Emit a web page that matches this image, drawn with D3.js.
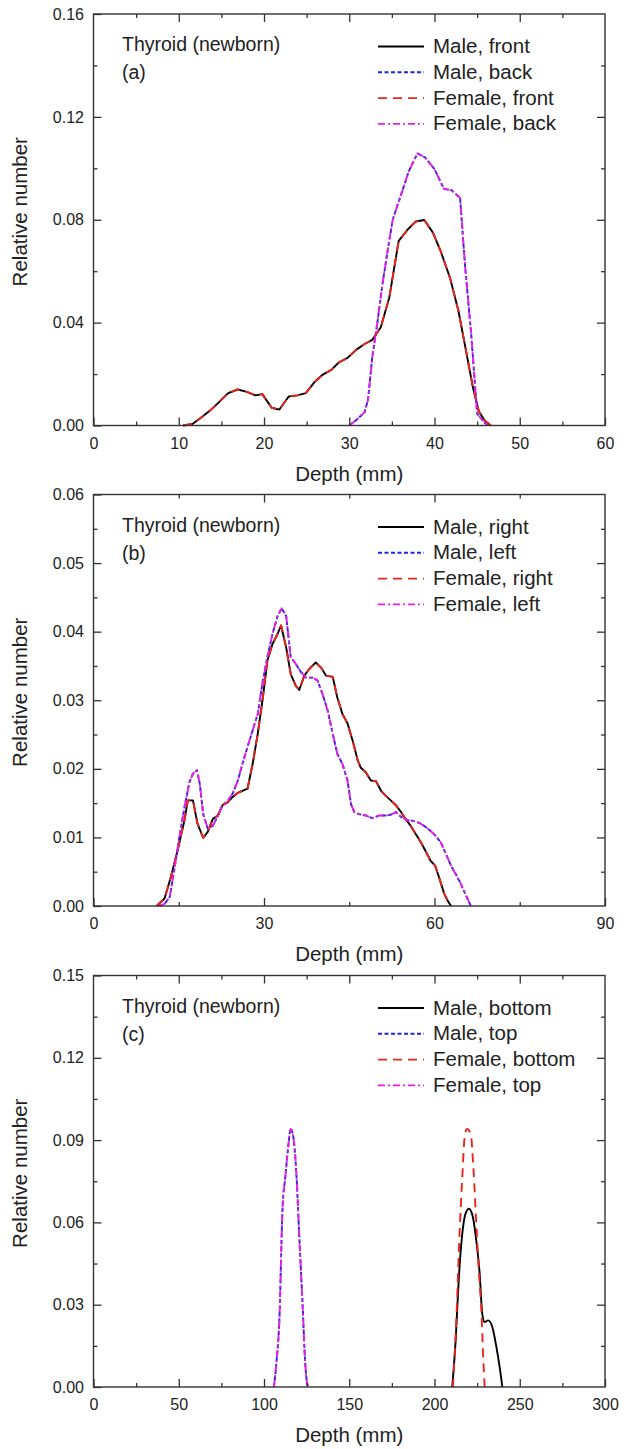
<!DOCTYPE html>
<html>
<head>
<meta charset="utf-8">
<script src="https://cdn.jsdelivr.net/npm/d3@7"></script>
<style>
  html, body { margin: 0; padding: 0; background: #fff; }
  svg { display: block; }
  text { font-family: "Liberation Sans", Arial, sans-serif; fill: #222; }
</style>
</head>
<body>
<svg id="chart" width="624" height="1449"></svg>
<script>
// ---------------- DATA ----------------
// Panel (a): front / back, depth (mm) vs relative number
const aFront = [[10.5,0],[11.6,0.0006],[12.6,0.003],[13.6,0.0056],[14.7,0.009],[15.8,0.0126],[16.9,0.014],[17.9,0.0132],[19.0,0.0117],[19.8,0.0122],[20.9,0.0069],[21.8,0.0062],[22.9,0.0113],[23.9,0.0117],[24.9,0.0126],[25.9,0.0168],[26.9,0.0198],[27.9,0.0216],[28.8,0.0246],[29.8,0.0263],[30.8,0.0294],[31.8,0.0317],[32.7,0.0333],[33.7,0.0382],[34.7,0.0498],[35.8,0.0718],[36.8,0.076],[37.8,0.0793],[38.8,0.0799],[39.8,0.0751],[40.7,0.068],[41.8,0.0576],[42.8,0.0447],[43.7,0.029],[44.5,0.0149],[45.2,0.0055],[45.9,0.0018],[46.6,0]];
const aBack = [[30.0,0],[30.8,0.002],[31.8,0.0052],[32.2,0.01],[32.7,0.0265],[33.3,0.04],[33.9,0.055],[34.5,0.068],[35.1,0.08],[36.1,0.09],[37.0,0.099],[38.0,0.1058],[38.9,0.1042],[40.0,0.0997],[41.1,0.092],[42.0,0.0915],[43.0,0.0885],[43.6,0.0615],[44.3,0.0357],[45.0,0.0046],[45.9,0.001],[46.3,0]];
const aFemaleFront = aFront;   // overlaps the male curve
const aFemaleBack = aBack;

// Panel (b): right / left
const bRight = [[11.1,0],[12.5,0.0011],[13.6,0.0042],[14.8,0.0081],[16.0,0.0125],[16.6,0.0154],[17.5,0.0154],[18.3,0.012],[19.3,0.00995],[20.1,0.0108],[21.0,0.0127],[21.9,0.0132],[22.7,0.0147],[23.6,0.0151],[24.5,0.0159],[25.4,0.0165],[26.2,0.0168],[27.1,0.0171],[28.0,0.0207],[28.9,0.0251],[29.8,0.0304],[30.6,0.0358],[31.5,0.0382],[32.4,0.0397],[33.0,0.0409],[33.9,0.0377],[34.7,0.0338],[35.6,0.0321],[36.2,0.0315],[37.1,0.0336],[38.0,0.0346],[39.1,0.0355],[40.0,0.0348],[40.9,0.0336],[42.1,0.0334],[42.9,0.0304],[43.8,0.028],[44.7,0.0266],[45.6,0.0241],[46.5,0.0212],[47.0,0.0202],[47.9,0.0195],[48.8,0.0183],[49.7,0.0182],[50.6,0.0168],[51.4,0.0161],[52.3,0.0154],[53.2,0.0147],[54.1,0.0137],[54.9,0.0127],[55.8,0.0117],[56.7,0.0105],[57.6,0.0093],[58.5,0.0079],[59.3,0.0066],[60.1,0.0059],[60.8,0.0042],[61.7,0.0018],[62.3,0.0008],[62.9,0]];
const bLeft = [[11.6,0],[12.5,0.0003],[13.4,0.0013],[14.2,0.0052],[15.1,0.01],[16.0,0.0144],[16.9,0.0181],[17.5,0.0193],[18.2,0.0198],[18.7,0.0178],[19.3,0.0134],[20.1,0.0113],[21.0,0.0117],[21.9,0.0132],[22.7,0.0147],[23.6,0.0153],[24.5,0.0164],[25.4,0.0183],[26.2,0.0207],[27.1,0.0232],[28.0,0.0256],[28.9,0.028],[29.8,0.0329],[30.6,0.0363],[31.5,0.0397],[32.4,0.0423],[33.1,0.0434],[33.9,0.0423],[34.7,0.0363],[35.6,0.0353],[36.5,0.0341],[37.4,0.0333],[38.5,0.0333],[39.4,0.0329],[40.3,0.0309],[41.2,0.0285],[42.1,0.0251],[42.9,0.0222],[43.8,0.0207],[44.7,0.0183],[45.3,0.0149],[45.9,0.0137],[46.7,0.0134],[47.9,0.0132],[49.1,0.0128],[50.3,0.0132],[51.4,0.0132],[52.3,0.0133],[53.2,0.0137],[54.1,0.013],[55.2,0.0125],[56.4,0.0124],[57.6,0.012],[58.8,0.0113],[59.9,0.0105],[61.1,0.0093],[62.0,0.0076],[62.9,0.0059],[63.7,0.0047],[64.6,0.0033],[65.5,0.0016],[66.4,0]];
const bFemaleRight = bRight;
const bFemaleLeft = bLeft;

// Panel (c): bottom / top
const cMaleBottom = [[210.4,0],[212.4,0.017],[214.3,0.0401],[216.3,0.0559],[218.2,0.0632],[220.2,0.065],[222.5,0.062],[224.5,0.0534],[226.5,0.0413],[228.0,0.0267],[229.4,0.0237],[231.4,0.0243],[233.9,0.0219],[236.3,0.0146],[238.2,0.0073],[239.8,0]];
const cTop = [[105.8,0],[107.4,0.0097],[109.0,0.0243],[110.9,0.0656],[112.5,0.0765],[114.4,0.0887],[115.6,0.0941],[117.2,0.0911],[119.1,0.0765],[120.7,0.0547],[122.6,0.0304],[124.2,0.0085],[125.6,0.0006],[126.6,0]];
const cFemaleBottom = [[210.8,0],[212.7,0.023],[214.7,0.0559],[216.3,0.0765],[217.6,0.0905],[219.0,0.0941],[221.2,0.0923],[222.9,0.079],[224.5,0.0595],[226.1,0.0413],[227.5,0.0279],[228.4,0.0134],[229.4,0]];
const cFemaleTop = cTop;

// Axis settings
const xDomains = [[0, 60], [0, 90], [0, 300]];
const yDomains = [[0, 0.16], [0, 0.06], [0, 0.15]];
const xTickSteps = [10, 30, 50];
const yTickSteps = [0.04, 0.01, 0.03];
const panelLabels = ["(a)", "(b)", "(c)"];
const organLabel = "Thyroid (newborn)";
const legendNames = [
  ["Male, front", "Male, back", "Female, front", "Female, back"],
  ["Male, right", "Male, left", "Female, right", "Female, left"],
  ["Male, bottom", "Male, top", "Female, bottom", "Female, top"]
];
const xTitle = "Depth (mm)";
const yTitle = "Relative number";

// ---------------- STYLE ----------------
const seriesStyles = [
  { color: "#000000", dash: null },
  { color: "#2323e0", dash: "4,2.5" },
  { color: "#e8261e", dash: "9,6" },
  { color: "#e61ee6", dash: "7,3,2,3" }
];

const svg = d3.select("#chart");
const left = 93.5, right = 605;
const tops = [14, 494.5, 975.5];
const ph = 411.5;

const panelsData = [
  [aFront, aBack, aFemaleFront, aFemaleBack],
  [bRight, bLeft, bFemaleRight, bFemaleLeft],
  [cMaleBottom, cTop, cFemaleBottom, cFemaleTop]
];

function rangeStep(a, b, s) {
  const out = [];
  const n = Math.floor((b - a) / s + 1e-9);
  for (let i = 0; i <= n; i++) out.push(a + i * s);
  return out;
}

panelsData.forEach((series, p) => {
  const top = tops[p], bottom = top + ph;
  const g = svg.append("g");
  const x = d3.scaleLinear().domain(xDomains[p]).range([left, right]);
  const y = d3.scaleLinear().domain(yDomains[p]).range([bottom, top]);

  const xMajor = rangeStep(xDomains[p][0], xDomains[p][1], xTickSteps[p]);
  const yMajor = rangeStep(yDomains[p][0], yDomains[p][1], yTickSteps[p]);
  const xMinor = rangeStep(xDomains[p][0] + xTickSteps[p] / 2, xDomains[p][1], xTickSteps[p]);
  const yMinor = rangeStep(yDomains[p][0] + yTickSteps[p] / 2, yDomains[p][1], yTickSteps[p]);

  // lines
  const line = d3.line().x(d => x(d[0])).y(d => y(d[1]));
  if (p === 2) line.curve(d3.curveMonotoneX);
  series.forEach((data, i) => {
    const st = seriesStyles[i];
    g.append("path")
      .datum(data)
      .attr("d", line)
      .attr("fill", "none")
      .attr("stroke", st.color)
      .attr("stroke-width", 1.9)
      .attr("stroke-dasharray", st.dash)
      .attr("stroke-linejoin", "round");
  });

  // axes: major with labels
  const axStyle = sel => {
    sel.select(".domain").remove();
    sel.selectAll(".tick line").attr("stroke", "#333").attr("stroke-width", 1.3);
    sel.selectAll(".tick text").style("font-size", "16px").attr("fill", "#222")
      .style("font-family", '"Liberation Sans", Arial, sans-serif');
  };
  g.append("g").attr("transform", `translate(0,${bottom})`)
    .call(d3.axisBottom(x).tickValues(xMajor).tickFormat(d3.format("d")).tickSizeInner(-8).tickSizeOuter(0).tickPadding(12))
    .call(axStyle);
  g.append("g").attr("transform", `translate(${left},0)`)
    .call(d3.axisLeft(y).tickValues(yMajor).tickFormat(d3.format(".2f")).tickSizeInner(-8).tickSizeOuter(0).tickPadding(9.5))
    .call(axStyle);
  g.append("g").attr("transform", `translate(0,${top})`)
    .call(d3.axisTop(x).tickValues(xMajor.slice(1, -1)).tickFormat("").tickSizeInner(-8).tickSizeOuter(0))
    .call(axStyle);
  g.append("g").attr("transform", `translate(${right},0)`)
    .call(d3.axisRight(y).tickValues(yMajor.slice(1, -1)).tickFormat("").tickSizeInner(-8).tickSizeOuter(0))
    .call(axStyle);
  // minor ticks
  g.append("g").attr("transform", `translate(0,${bottom})`)
    .call(d3.axisBottom(x).tickValues(xMinor).tickFormat("").tickSizeInner(-4).tickSizeOuter(0)).call(axStyle);
  g.append("g").attr("transform", `translate(0,${top})`)
    .call(d3.axisTop(x).tickValues(xMinor).tickFormat("").tickSizeInner(-4).tickSizeOuter(0)).call(axStyle);
  g.append("g").attr("transform", `translate(${left},0)`)
    .call(d3.axisLeft(y).tickValues(yMinor).tickFormat("").tickSizeInner(-4).tickSizeOuter(0)).call(axStyle);
  g.append("g").attr("transform", `translate(${right},0)`)
    .call(d3.axisRight(y).tickValues(yMinor).tickFormat("").tickSizeInner(-4).tickSizeOuter(0)).call(axStyle);

  // frame
  g.append("rect")
    .attr("x", left).attr("y", top)
    .attr("width", right - left).attr("height", ph)
    .attr("fill", "none").attr("stroke", "#333").attr("stroke-width", 1.4);

  // axis titles
  g.append("text")
    .attr("x", (left + right) / 2).attr("y", bottom + 55)
    .attr("text-anchor", "middle").style("font-size", "20.5px")
    .text(xTitle);
  g.append("text")
    .attr("transform", `translate(27,${(top + bottom) / 2 - 8}) rotate(-90)`)
    .attr("text-anchor", "middle").style("font-size", "20.5px")
    .text(yTitle);

  // annotation
  g.append("text").attr("x", 122).attr("y", top + 37).style("font-size", "19.5px").text(organLabel);
  g.append("text").attr("x", 122).attr("y", top + 65).style("font-size", "19.5px").text(panelLabels[p]);

  // legend
  legendNames[p].forEach((name, i) => {
    const by = top + 39 + i * 25.8;
    const st = seriesStyles[i];
    g.append("line")
      .attr("x1", 378).attr("x2", 424)
      .attr("y1", by - 6.5).attr("y2", by - 6.5)
      .attr("stroke", st.color).attr("stroke-width", 1.9)
      .attr("stroke-dasharray", st.dash);
    g.append("text").attr("x", 433).attr("y", by).style("font-size", "20.5px").text(name);
  });
});
</script>
</body>
</html>
